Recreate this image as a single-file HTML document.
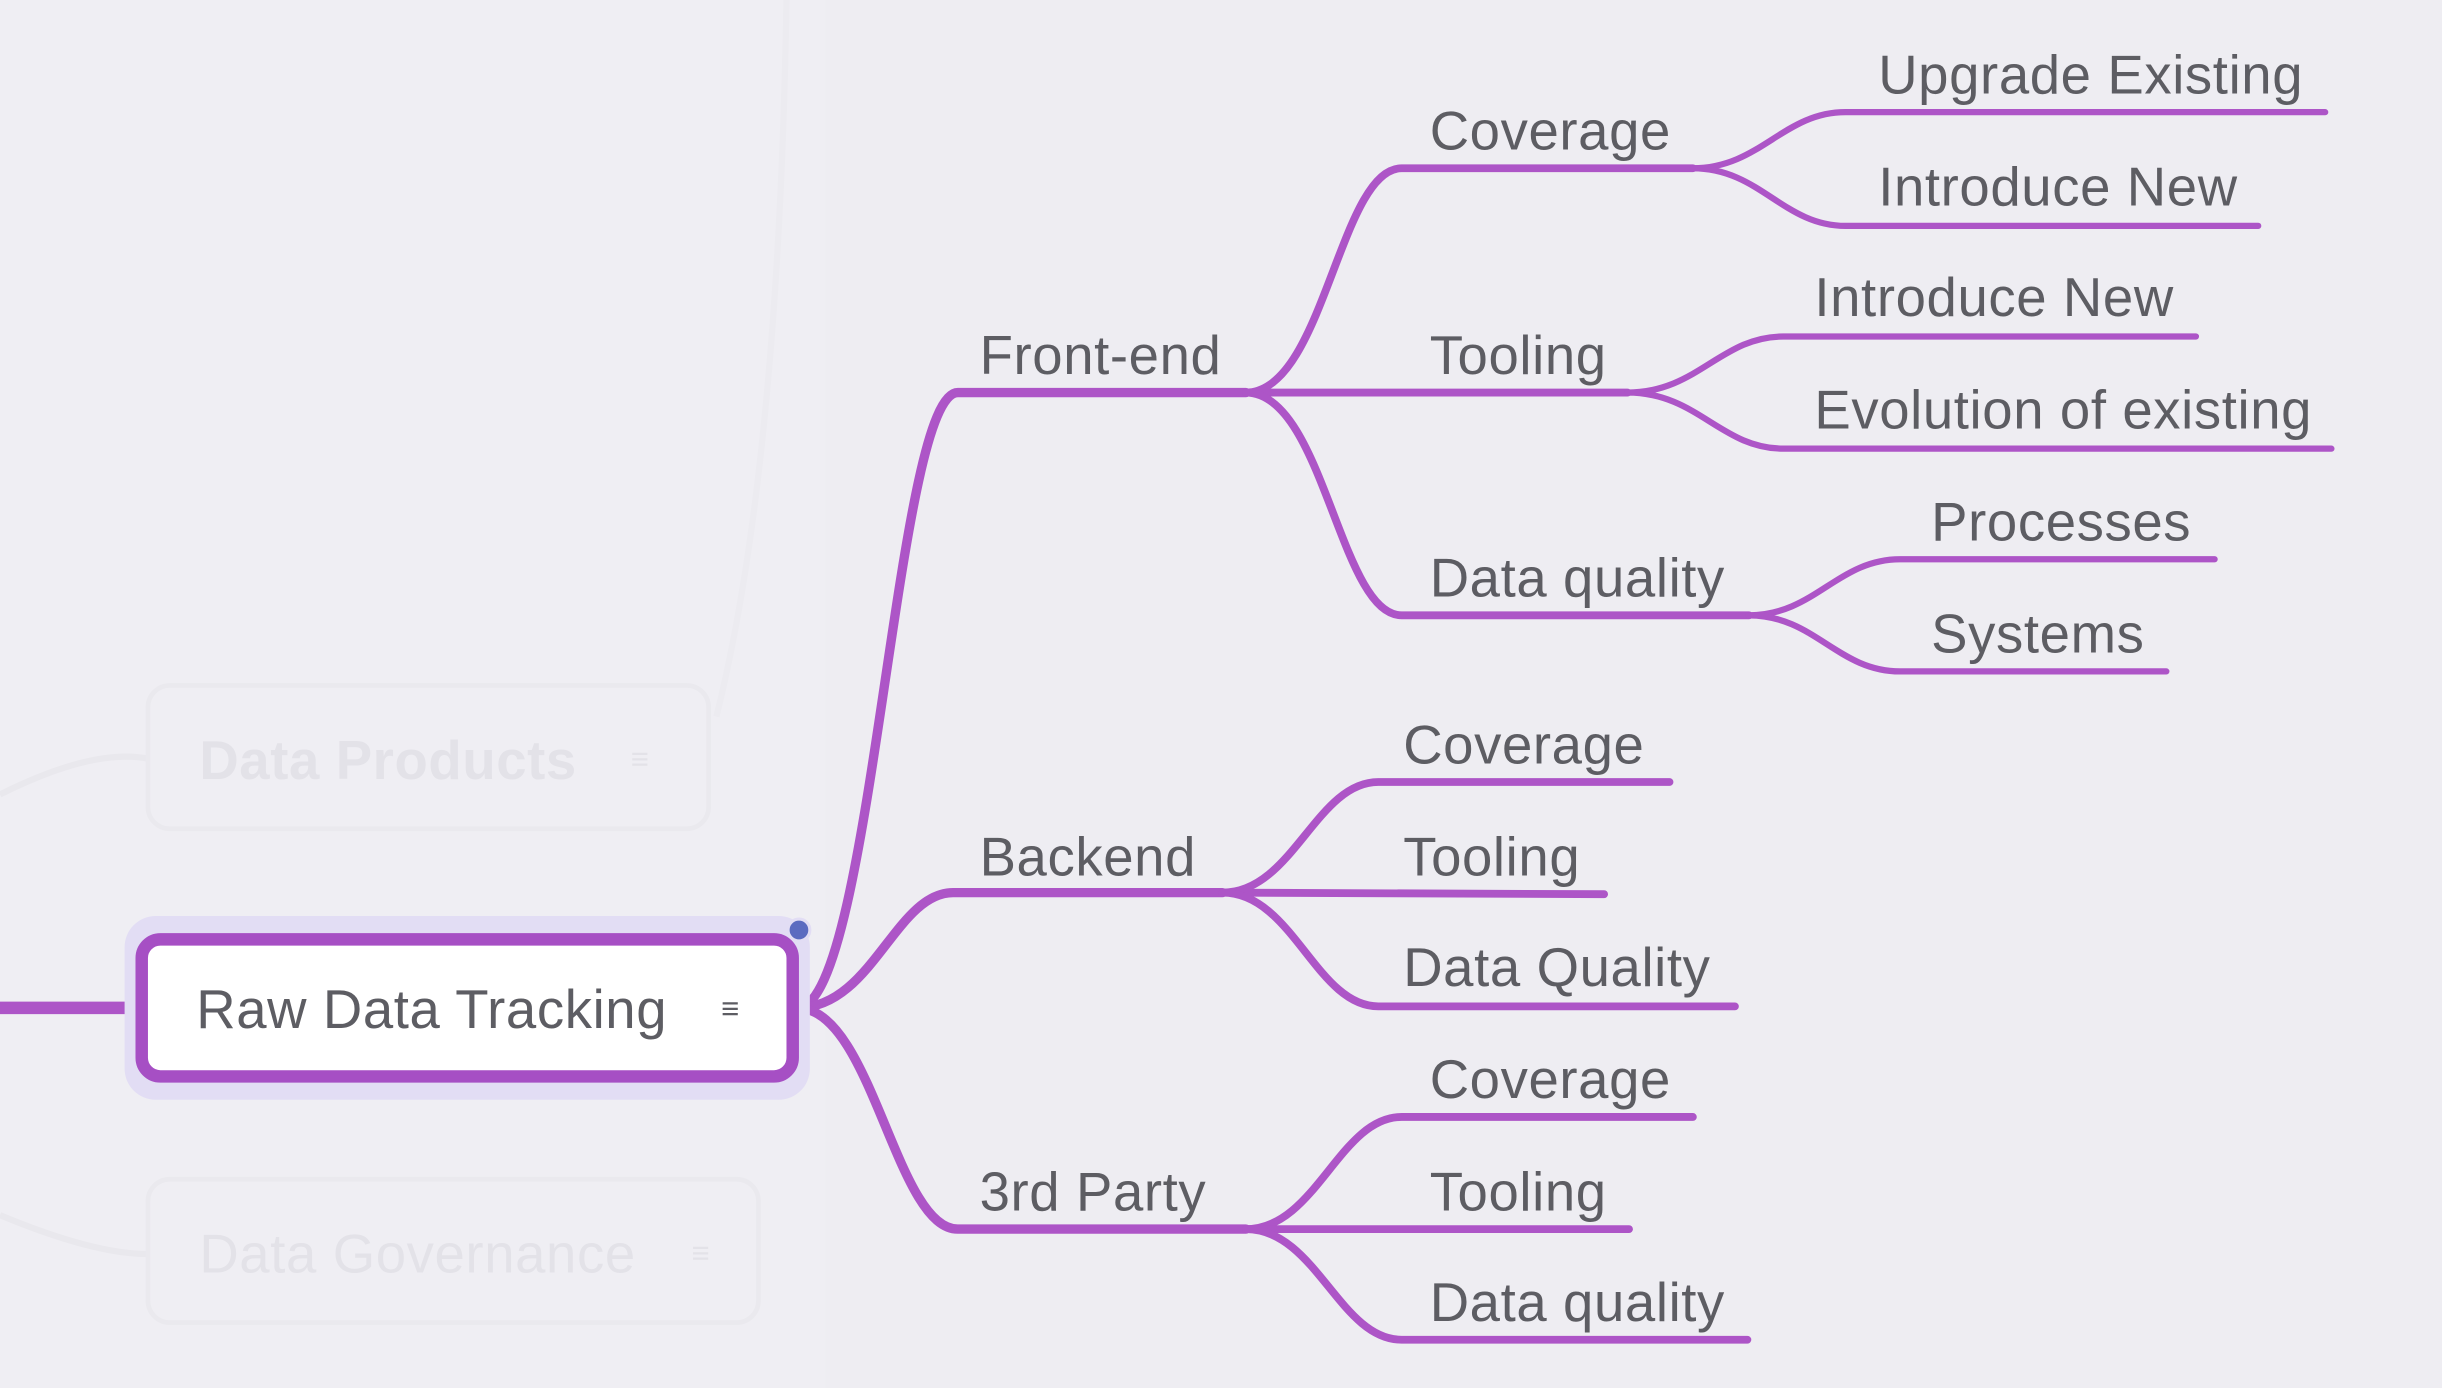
<!DOCTYPE html>
<html><head><meta charset="utf-8"><style>
html,body{margin:0;padding:0;background:#eeedf2;}
svg{display:block}
text{font-family:"Liberation Sans",sans-serif;fill:#5d5d63;font-size:35px;letter-spacing:0.4px}
</style></head><body>
<svg width="2442" height="1388" viewBox="0 0 1568 891" preserveAspectRatio="none" xmlns="http://www.w3.org/2000/svg">
<rect width="1568" height="891" fill="#eeedf2"/>
<rect x="0" y="0" width="530" height="891" fill="#efeef3"/>
<!-- faint nodes -->
<path d="M0 510 Q60 480 95 487" stroke="#e9e8ed" stroke-width="4" fill="none"/>
<path d="M0 780 Q60 805 95 805" stroke="#e9e8ed" stroke-width="4" fill="none"/>
<path d="M460 460 Q500 300 505 0" stroke="#ecebf0" stroke-width="4" fill="none"/>
<rect x="95" y="440" width="360" height="92" rx="14" fill="none" stroke="#eae9ee" stroke-width="3"/>
<text x="128" y="500" style="fill:#e3e2e8;font-weight:bold">Data Products</text>
<text x="405" y="494" style="fill:#e3e2e8;font-size:20px">≡</text>
<rect x="95" y="757" width="392" height="92" rx="14" fill="none" stroke="#eae9ee" stroke-width="3"/>
<text x="128" y="817" style="fill:#e3e2e8">Data Governance</text>
<text x="444" y="811" style="fill:#e3e2e8;font-size:20px">≡</text>

<g fill="none" stroke="#ad55c7" stroke-linecap="round">
<line x1="0" y1="647" x2="90" y2="647" stroke-width="8"/>
<g stroke-width="6">
<path d="M512 647 C560 647 575 252 615 252 L800 252"/>
<path d="M512 647 C560 647 575 573 612 573 L785 573"/>
<path d="M512 647 C560 647 575 789 615 789 L800 789"/>
</g>
<g stroke-width="5">
<path d="M800 252 C850 252 860 108 900 108 L1087 108"/>
<path d="M800 252 L1045 252"/>
<path d="M800 252 C850 252 860 395 900 395 L1123 395"/>
<path d="M785 573 C830 573 845 502 885 502 L1072 502"/>
<path d="M785 573 L1030 574"/>
<path d="M785 573 C830 573 845 646 885 646 L1114 646"/>
<path d="M800 789 C845 789 860 717 900 717 L1087 717"/>
<path d="M800 789 L1046 789"/>
<path d="M800 789 C845 789 860 860 900 860 L1122 860"/>
</g>
<g stroke-width="4">
<path d="M1087 108 C1130 108 1145 72 1185 72 L1493 72"/>
<path d="M1087 108 C1130 108 1145 145 1185 145 L1450 145"/>
<path d="M1045 252 C1090 252 1105 216 1145 216 L1410 216"/>
<path d="M1045 252 C1090 252 1105 288 1145 288 L1497 288"/>
<path d="M1123 395 C1165 395 1180 359 1220 359 L1422 359"/>
<path d="M1123 395 C1165 395 1180 431 1220 431 L1391 431"/>
</g>
</g>

<rect x="80" y="588" width="440" height="118" rx="20" fill="#e2ddf4"/>
<rect x="91" y="603" width="418" height="88" rx="12" fill="#fff" stroke="#a64fc4" stroke-width="8"/>
<text x="126" y="660">Raw Data Tracking</text>
<text x="463" y="654" style="font-size:20px">≡</text>
<circle cx="513" cy="597" r="7" fill="#5b6bc0" stroke="#e2ddf4" stroke-width="2"/>

<text x="629" y="240">Front-end</text>
<text x="629" y="562">Backend</text>
<text x="629" y="777">3rd Party</text>
<text x="918" y="96">Coverage</text>
<text x="918" y="240">Tooling</text>
<text x="918" y="383">Data quality</text>
<text x="1206" y="60">Upgrade Existing</text>
<text x="1206" y="132">Introduce New</text>
<text x="1165" y="203">Introduce New</text>
<text x="1165" y="275">Evolution of existing</text>
<text x="1240" y="347">Processes</text>
<text x="1240" y="419">Systems</text>
<text x="901" y="490">Coverage</text>
<text x="901" y="562">Tooling</text>
<text x="901" y="633">Data Quality</text>
<text x="918" y="705">Coverage</text>
<text x="918" y="777">Tooling</text>
<text x="918" y="848">Data quality</text>
</svg>
</body></html>
